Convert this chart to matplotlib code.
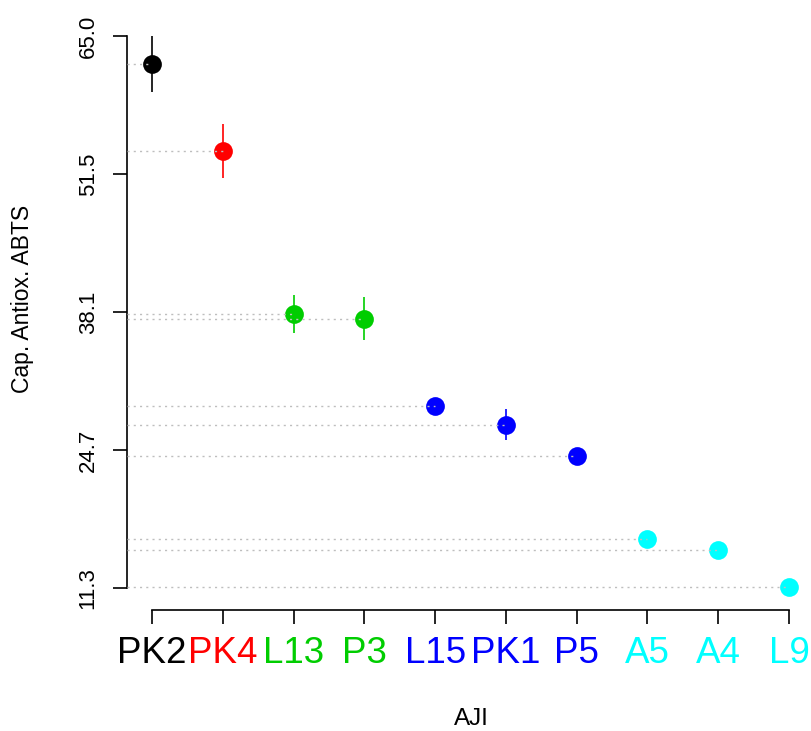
import matplotlib
matplotlib.use("Agg")
import matplotlib.pyplot as plt

plt.rcParams['font.family'] = ['Liberation Sans', 'DejaVu Sans']

categories = ["PK2", "PK4", "L13", "P3", "L15", "PK1", "P5", "A5", "A4", "L9"]
means = [62.3, 53.8, 38.0, 37.5, 29.0, 27.2, 24.1, 16.1, 15.0, 11.4]
sds = [2.7, 2.65, 1.85, 2.07, 0.6, 1.5, 0.5, 0.4, 0.4, 0.12]
colors = ["black", "red", "#00CD00", "#00CD00", "blue", "blue", "blue",
          "cyan", "cyan", "cyan"]
ytick_vals = [11.3, 24.725, 38.15, 51.575, 65.0]
ytick_labels = ["11.3", "24.7", "38.1", "51.5", "65.0"]

W, H = 811, 731
fig = plt.figure(figsize=(W / 100, H / 100), dpi=100)
left, right, top, bottom = 126.5, 814.5, 14, 610
ax = fig.add_axes([left / W, (H - bottom) / H, (right - left) / W, (bottom - top) / H])

n = len(categories)
xs = list(range(1, n + 1))
xpad = (n - 1) * 0.04
ypad = (ytick_vals[-1] - ytick_vals[0]) * 0.04
x0 = 1 - xpad
ax.set_xlim(x0, n + xpad)
ax.set_ylim(ytick_vals[0] - ypad, ytick_vals[-1] + ypad)

for x, m, s, c in zip(xs, means, sds, colors):
    ax.plot([x, x], [m - s, m + s], color=c, lw=1.2, zorder=2, solid_capstyle='butt')
    ax.plot([x], [m], 'o', color=c, markersize=13.5, markeredgewidth=0, zorder=3)
    ax.plot([x0, x], [m, m], color='#BEBEBE', lw=1.0, ls=(0, (1.5, 3)), zorder=4)

for sp in ['top', 'right']:
    ax.spines[sp].set_visible(False)
ax.spines['left'].set_bounds(ytick_vals[0], ytick_vals[-1])
ax.spines['bottom'].set_bounds(1, n)
ax.spines['left'].set_linewidth(1.2)
ax.spines['bottom'].set_linewidth(1.2)

ax.set_yticks(ytick_vals)
ax.set_yticklabels(ytick_labels, rotation=90, va='center', fontsize=16)
ax.tick_params(axis='y', length=10, width=1.2, pad=10)

ax.set_xticks(xs)
ax.set_xticklabels(categories, fontsize=26.5)
for lbl, c in zip(ax.get_xticklabels(), colors):
    lbl.set_color(c)
ax.tick_params(axis='x', length=10, width=1.2, pad=9)

fig.text(471 / W, 1 - 719 / H, "AJI", fontsize=17.5, ha='center', va='center')
fig.text(23 / W, 1 - 299 / H, "Cap. Antiox. ABTS", fontsize=16.5,
         ha='center', va='center', rotation=90)

fig.savefig("out.png", dpi=100)
